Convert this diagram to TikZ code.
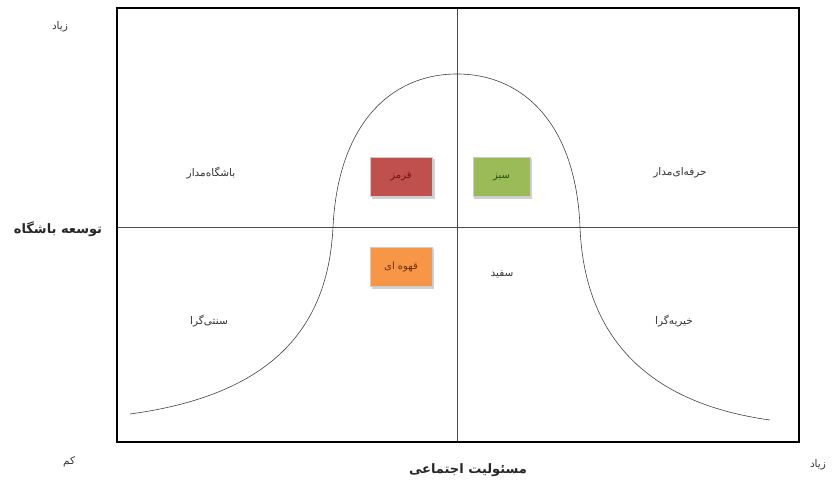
\documentclass[tikz,border=0pt]{standalone}
\usepackage{fontspec}
\setmainfont{DejaVu Sans}
\newfontfamily\fa[Script=Arabic]{DejaVu Sans}
\TeXXeTstate=1
\begin{document}
\begin{tikzpicture}[x=1pt,y=-1pt,
  lbl/.style={font=\fa\fontsize{10.5}{12}\selectfont, inner sep=1pt, text=black!80},
  axl/.style={font=\fa\bfseries\fontsize{13}{15}\selectfont, inner sep=1pt, text=black!85},
  cbox/.style={minimum width=62pt, minimum height=39pt, inner sep=0pt,
     font=\fa\fontsize{10}{12}\selectfont, draw=white!80!black, line width=0.6pt},
  gridline/.style={draw=black!70, line width=0.6pt},
  frameline/.style={draw=black, line width=2.6pt},
  curveline/.style={draw=black!75, line width=0.6pt}]
\useasboundingbox (0,0) rectangle (836,483);
\coordinate (fTL) at (117,8);
\coordinate (fBR) at (799,442);
\coordinate (vT) at (457,8);
\coordinate (vB) at (457,442);
\coordinate (hL) at (117,227);
\coordinate (hR) at (799,227);
\draw[gridline] (vT) -- (vB);
\draw[gridline] (hL) -- (hR);
\coordinate (c0) at (130,414);
\coordinate (c1) at (333,227);
\coordinate (c2) at (457,74);
\coordinate (c3) at (580,227);
\coordinate (c4) at (770,420);
\draw[curveline] (c0) .. controls (270,395) and (328,330) .. (c1)
  .. controls (338,125) and (390,74) .. (c2)
  .. controls (524,74) and (576,125) .. (c3)
  .. controls (584,330) and (640,402) .. (c4);
\draw[frameline] (fTL) rectangle (fBR);
% colored boxes
\fill[black!18] (372,159) rectangle (435,199);
\node[cbox, fill={rgb,255:red,192;green,80;blue,77}, text={rgb,255:red,110;green,20;blue,20}] (red) at (401,177) {\beginR قرمز\endR};
\fill[black!18] (474,159) rectangle (532,199);
\node[cbox, minimum width=57pt, fill={rgb,255:red,155;green,187;blue,89}, text={rgb,255:red,40;green,80;blue,20}] (green) at (501.5,177) {\beginR سبز\endR};
\fill[black!18] (372,249) rectangle (434,289);
\node[cbox, fill={rgb,255:red,247;green,150;blue,70}, text={rgb,255:red,110;green,50;blue,10}] (brown) at (401,267) {\beginR قهوه ای\endR};
% quadrant labels
\node[lbl] (q1) at (211,173) {\beginR باشگاه‌مدار\endR};
\node[lbl] (q2) at (680,173) {\beginR حرفه‌ای‌مدار\endR};
\node[lbl] (q3) at (502,274) {\beginR سفید\endR};
\node[lbl] (q4) at (209,321) {\beginR سنتی‌گرا\endR};
\node[lbl] (q5) at (674,321) {\beginR خیریه‌گرا\endR};
% axis labels
\node[lbl] (hi1) at (60,27) {\beginR زیاد\endR};
\node[lbl] (lo) at (69,462) {\beginR کم\endR};
\node[lbl] (hi2) at (818,465) {\beginR زیاد\endR};
\node[axl] (ya) at (58,229) {\beginR توسعه باشگاه\endR};
\node[axl] (xa) at (468,470) {\beginR مسئولیت اجتماعی\endR};
\end{tikzpicture}
\end{document}
